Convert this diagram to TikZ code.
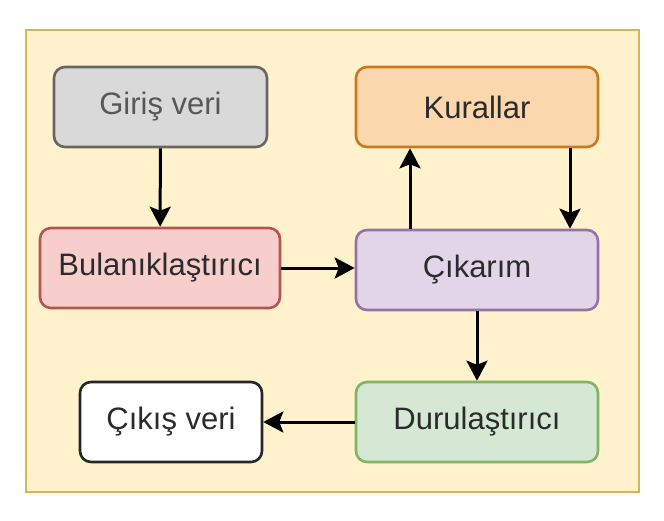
\documentclass[tikz,border=0pt]{standalone}
\usepackage{fontspec}
\setmainfont{Liberation Sans}
\usetikzlibrary{arrows.meta,calc}
\definecolor{bgfill}{HTML}{FFF2CC}
\definecolor{bgdraw}{HTML}{D6B656}
\definecolor{grayfill}{HTML}{D9D9D9}
\definecolor{graydraw}{HTML}{666666}
\definecolor{redfill}{HTML}{F8CECC}
\definecolor{reddraw}{HTML}{B85450}
\definecolor{orangefill}{HTML}{FAD7AC}
\definecolor{orangedraw}{HTML}{C87A1E}
\definecolor{purplefill}{HTML}{E1D5E7}
\definecolor{purpledraw}{HTML}{9673A6}
\definecolor{greenfill}{HTML}{D5E8D4}
\definecolor{greendraw}{HTML}{82B366}
\definecolor{txt}{HTML}{2B2B2B}
\tikzset{
  box/.style={rectangle, rounded corners=11pt, line width=2.6pt, minimum height=80pt,
    font=\fontsize{31}{36}\selectfont, text=txt, inner sep=0pt},
  arr/.style={line width=3pt, -{Stealth[length=20pt,width=21pt,inset=4pt]}}
}
\begin{document}
\begin{tikzpicture}[x=1pt,y=-1pt]
\useasboundingbox (0,0) rectangle (664,520);
\draw[fill=bgfill, draw=bgdraw, line width=2.2pt] (26,30) rectangle (639,492);
\node[box, fill=grayfill, draw=graydraw, text=graydraw!85!black, minimum width=213pt] (gir) at (160.5,107) {Giriş veri};
\node[box, fill=redfill, draw=reddraw, minimum width=240pt] (bul) at (160,268) {Bulanıklaştırıcı};
\node[box, fill=orangefill, draw=orangedraw, minimum width=242pt] (kur) at (477,107) {Kurallar};
\node[box, fill=purplefill, draw=purpledraw, minimum width=242pt] (cik) at (477,270) {Çıkarım};
\node[box, fill=greenfill, draw=greendraw, minimum width=242pt] (dur) at (477,422) {Durulaştırıcı};
\node[box, fill=white, draw=black!85, minimum width=182pt] (out) at (171,422) {Çıkış veri};
\draw[arr] (gir) -- (bul);
\draw[arr] (bul.east) -- (bul.east -| cik.west);
\draw[arr] ([xshift=-67pt]cik.north) -- ([xshift=-67pt]kur.south);
\draw[arr] ([xshift=93pt]kur.south) -- ([xshift=93pt]cik.north);
\draw[arr] (cik) -- (dur);
\draw[arr] (dur) -- (out);
\end{tikzpicture}
\end{document}
